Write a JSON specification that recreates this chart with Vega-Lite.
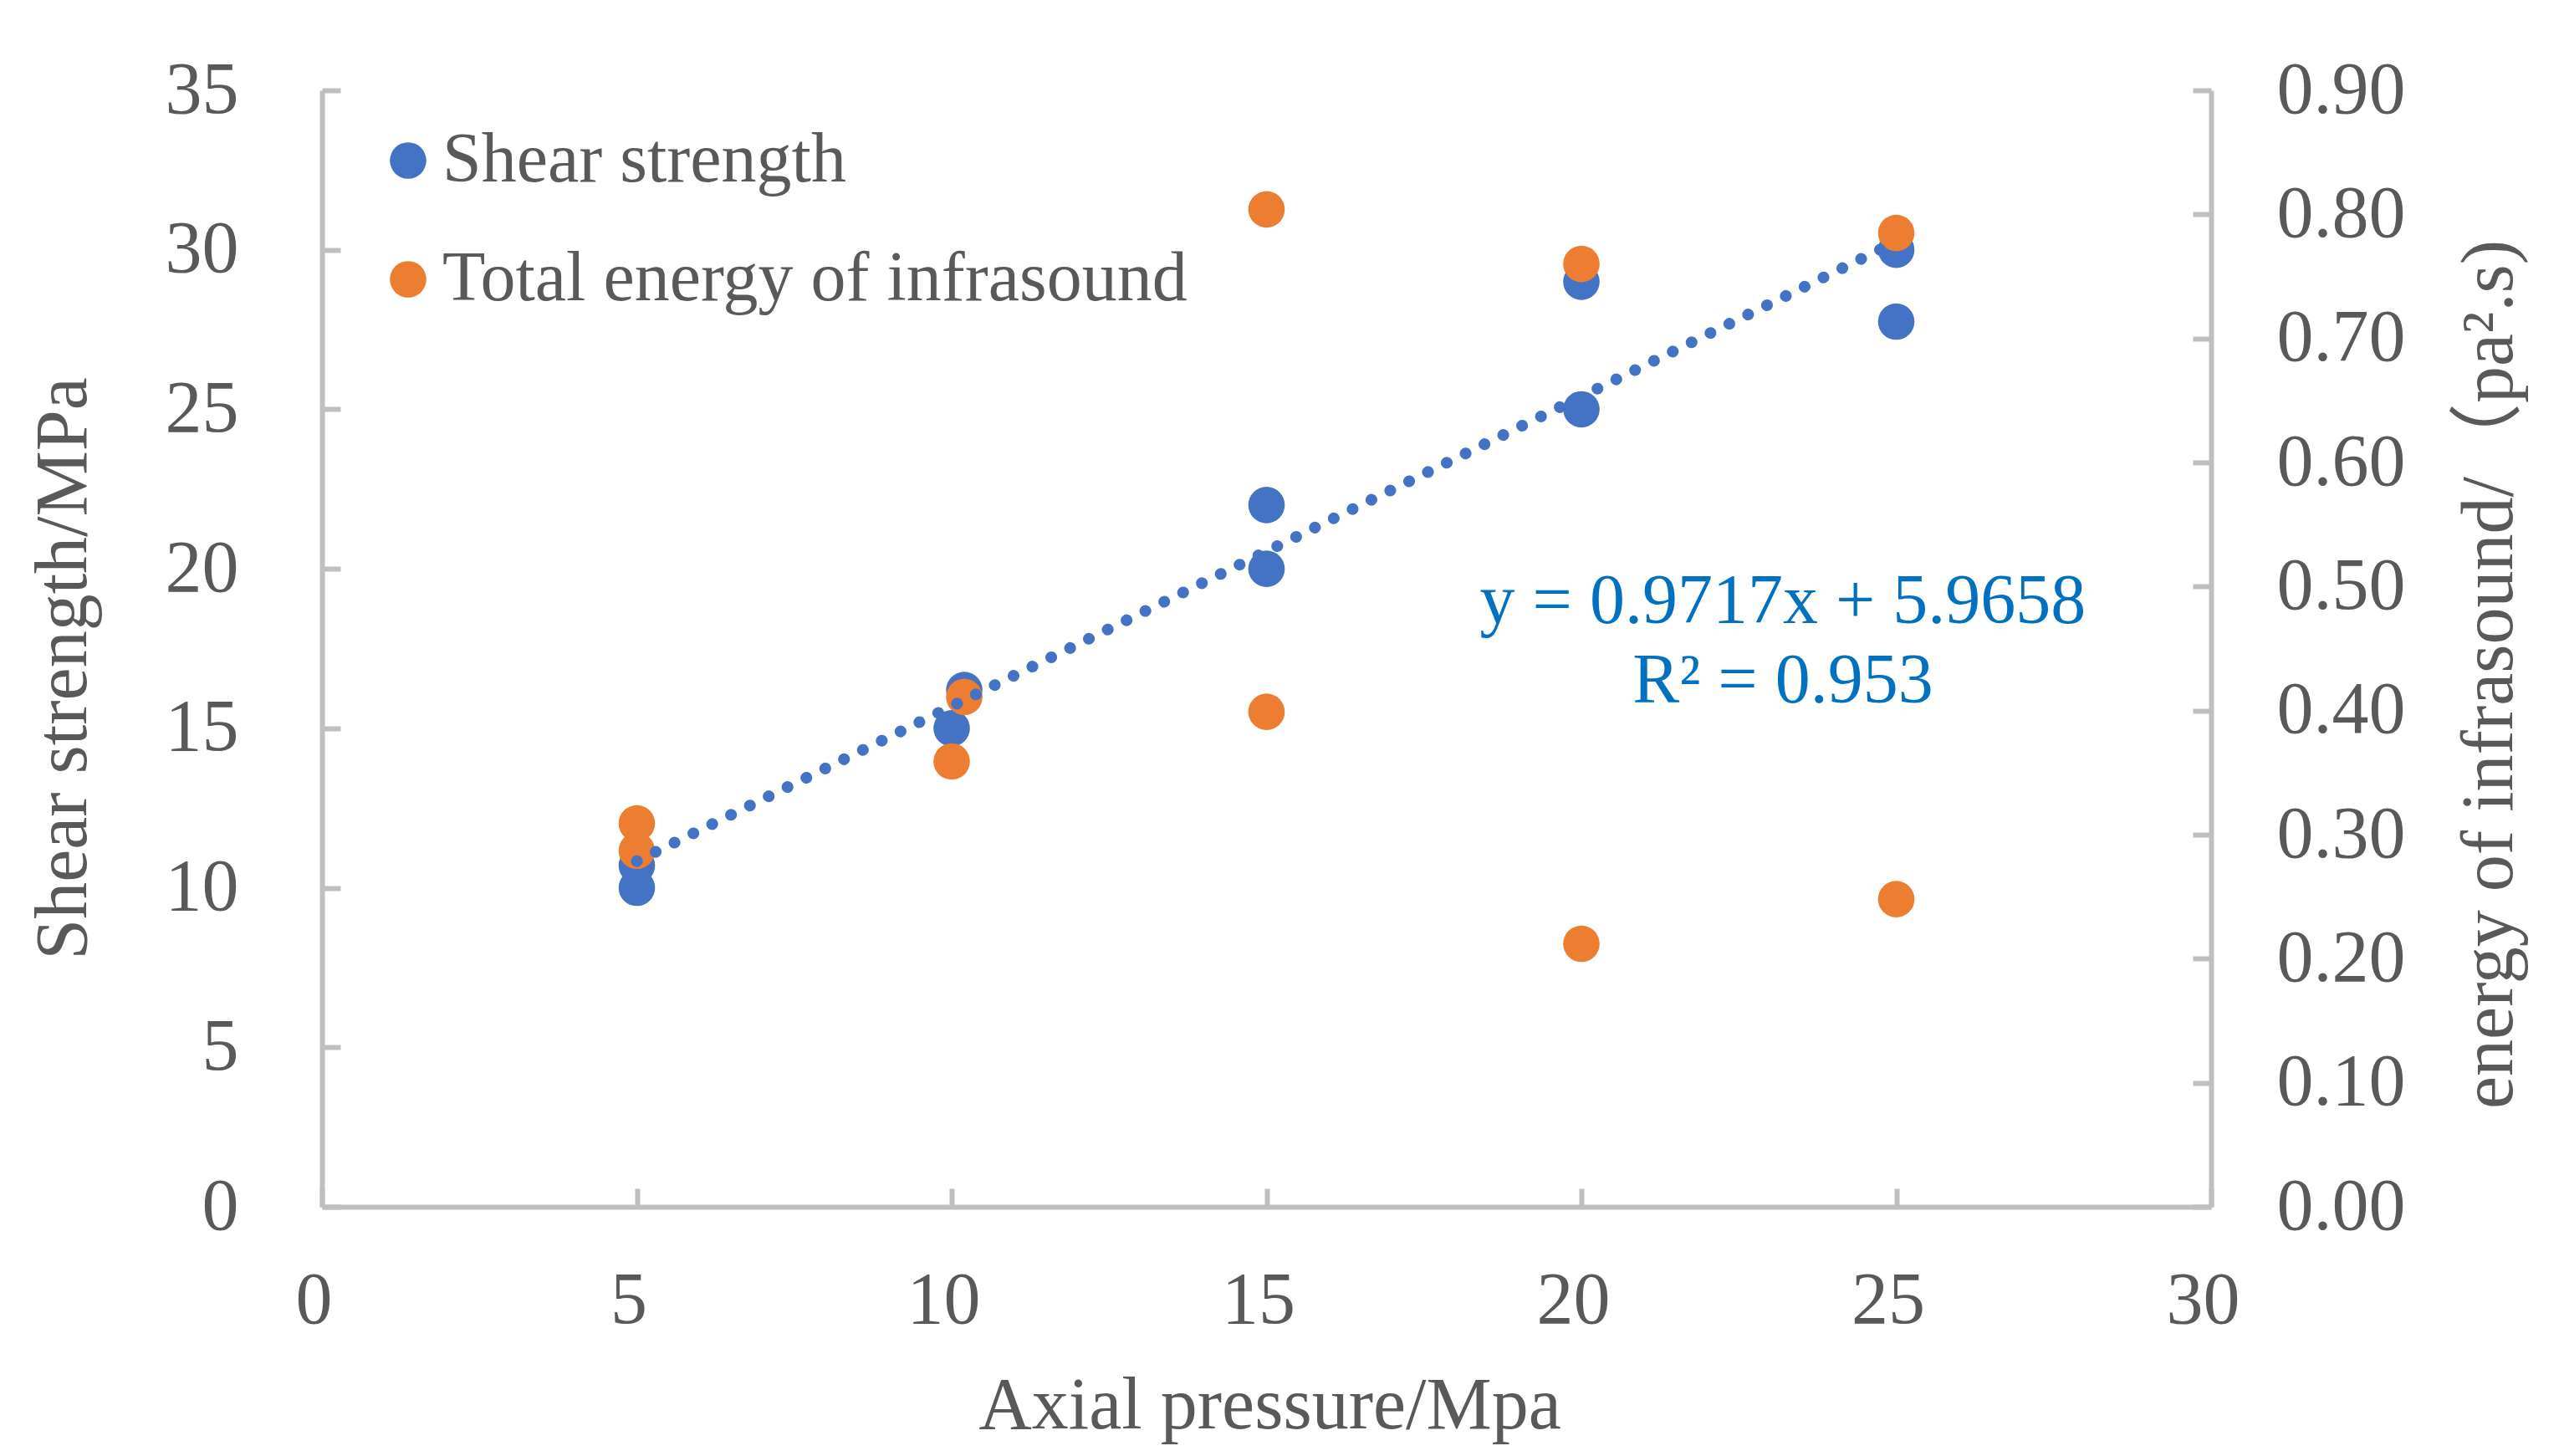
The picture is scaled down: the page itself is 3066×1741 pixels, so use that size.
{
  "$schema": "https://vega.github.io/schema/vega-lite/v6.json",
  "autosize": {"type": "none"},
  "width": 2259,
  "height": 1335,
  "padding": {"left": 385, "top": 108, "right": 422, "bottom": 298},
  "background": "white",
  "config": {
    "view": {"stroke": null},
    "font": "Liberation Serif",
    "axis": {
      "grid": false,
      "domainColor": "#BFBFBF",
      "domainWidth": 6,
      "tickColor": "#BFBFBF",
      "tickWidth": 6,
      "tickSize": -22,
      "labelFont": "Liberation Serif",
      "labelFontSize": 88,
      "labelColor": "#595959",
      "labelFlush": false,
      "titleFont": "Liberation Serif, Noto Sans CJK SC",
      "titleFontSize": 88,
      "titleColor": "#595959",
      "titleFontWeight": "normal"
    }
  },
  "datasets": {
    "shear": [
      {"x": 5, "y": 10.0, "series": "Shear strength"},
      {"x": 5, "y": 10.7, "series": "Shear strength"},
      {"x": 10, "y": 15.0, "series": "Shear strength"},
      {"x": 10.2, "y": 16.2, "series": "Shear strength"},
      {"x": 15, "y": 22.0, "series": "Shear strength"},
      {"x": 15, "y": 20.0, "series": "Shear strength"},
      {"x": 20, "y": 25.0, "series": "Shear strength"},
      {"x": 20, "y": 29.0, "series": "Shear strength"},
      {"x": 25, "y": 30.0, "series": "Shear strength"},
      {"x": 25, "y": 27.75, "series": "Shear strength"}
    ],
    "energy": [
      {"x": 5, "y": 0.309, "series": "Total energy of infrasound"},
      {"x": 5, "y": 0.287, "series": "Total energy of infrasound"},
      {"x": 10, "y": 0.359, "series": "Total energy of infrasound"},
      {"x": 10.2, "y": 0.411, "series": "Total energy of infrasound"},
      {"x": 15, "y": 0.804, "series": "Total energy of infrasound"},
      {"x": 15, "y": 0.399, "series": "Total energy of infrasound"},
      {"x": 20, "y": 0.760, "series": "Total energy of infrasound"},
      {"x": 20, "y": 0.212, "series": "Total energy of infrasound"},
      {"x": 25, "y": 0.785, "series": "Total energy of infrasound"},
      {"x": 25, "y": 0.248, "series": "Total energy of infrasound"}
    ],
    "annot": [
      {"x": 23.2, "y": 18.3, "label": "y = 0.9717x + 5.9658"},
      {"x": 23.2, "y": 15.81, "label": "R² = 0.953"}
    ]
  },
  "layer": [
    {
      "data": {"name": "shear"},
      "mark": {"type": "point", "filled": true, "size": 1900, "opacity": 1, "shape": "circle"},
      "encoding": {
        "x": {
          "field": "x", "type": "quantitative",
          "scale": {"domain": [0, 30], "nice": false},
          "axis": {
            "values": [0, 5, 10, 15, 20, 25, 30],
            "format": "d",
            "title": "Axial pressure/Mpa",
            "labelBaseline": "alphabetic",
            "labelPadding": 160,
            "labelOffset": -10,
            "titleX": 1133,
            "titleY": 264,
            "titleAlign": "center",
            "titleBaseline": "alphabetic"
          }
        },
        "y": {
          "field": "y", "type": "quantitative",
          "scale": {"domain": [0, 35], "nice": false},
          "axis": {
            "values": [0, 5, 10, 15, 20, 25, 30, 35],
            "format": "d",
            "title": "Shear strength/MPa",
            "labelPadding": 122,
            "titleAngle": 270,
            "titleX": -283,
            "titleY": 691,
            "titleAlign": "center",
            "titleBaseline": "alphabetic"
          }
        },
        "color": {
          "field": "series", "type": "nominal",
          "scale": {"domain": ["Shear strength", "Total energy of infrasound"], "range": ["#4472C4", "#ED7D31"]},
          "legend": {
            "orient": "none", "legendX": 61, "legendY": 42, "title": null,
            "symbolType": "circle", "symbolSize": 1900, "symbolStrokeWidth": 0,
            "labelFont": "Liberation Serif", "labelFontSize": 84, "labelColor": "#595959",
            "labelLimit": 2000, "labelOffset": -1, "rowPadding": 58, "padding": 0
          }
        }
      }
    },
    {
      "data": {"name": "energy"},
      "mark": {"type": "point", "filled": true, "size": 1900, "opacity": 1, "shape": "circle"},
      "encoding": {
        "x": {"field": "x", "type": "quantitative"},
        "y": {
          "field": "y", "type": "quantitative",
          "scale": {"domain": [0, 0.9], "nice": false},
          "axis": {
            "orient": "right",
            "values": [0, 0.1, 0.2, 0.3, 0.4, 0.5, 0.6, 0.7, 0.8, 0.9],
            "format": ".2f",
            "title": "energy of infrasound/（pa².s)",
            "labelPadding": 100,
            "titleAngle": 270,
            "titleX": 359,
            "titleY": 698,
            "titleAlign": "center",
            "titleBaseline": "alphabetic"
          }
        },
        "color": {
          "field": "series", "type": "nominal",
          "scale": {"domain": ["Shear strength", "Total energy of infrasound"], "range": ["#4472C4", "#ED7D31"]},
          "legend": {
            "orient": "none", "legendX": 61, "legendY": 42, "title": null,
            "symbolType": "circle", "symbolSize": 1900, "symbolStrokeWidth": 0,
            "labelFont": "Liberation Serif", "labelFontSize": 84, "labelColor": "#595959",
            "labelLimit": 2000, "labelOffset": -1, "rowPadding": 58, "padding": 0
          }
        }
      }
    },
    {
      "data": {"name": "shear"},
      "transform": [{"regression": "y", "on": "x", "method": "linear"}],
      "mark": {"type": "line", "color": "#4472C4", "strokeWidth": 14, "strokeDash": [0.1, 25], "strokeCap": "round"},
      "encoding": {
        "x": {"field": "x", "type": "quantitative"},
        "y": {"field": "y", "type": "quantitative", "scale": {"domain": [0, 35], "nice": false}, "axis": null}
      }
    },
    {
      "data": {"name": "annot"},
      "mark": {"type": "text", "align": "center", "baseline": "alphabetic", "font": "Liberation Serif", "fontSize": 84, "color": "#0070C0"},
      "encoding": {
        "x": {"field": "x", "type": "quantitative"},
        "y": {"field": "y", "type": "quantitative", "scale": {"domain": [0, 35], "nice": false}, "axis": null},
        "text": {"field": "label"}
      }
    }
  ],
  "resolve": {"scale": {"y": "independent"}}
}
